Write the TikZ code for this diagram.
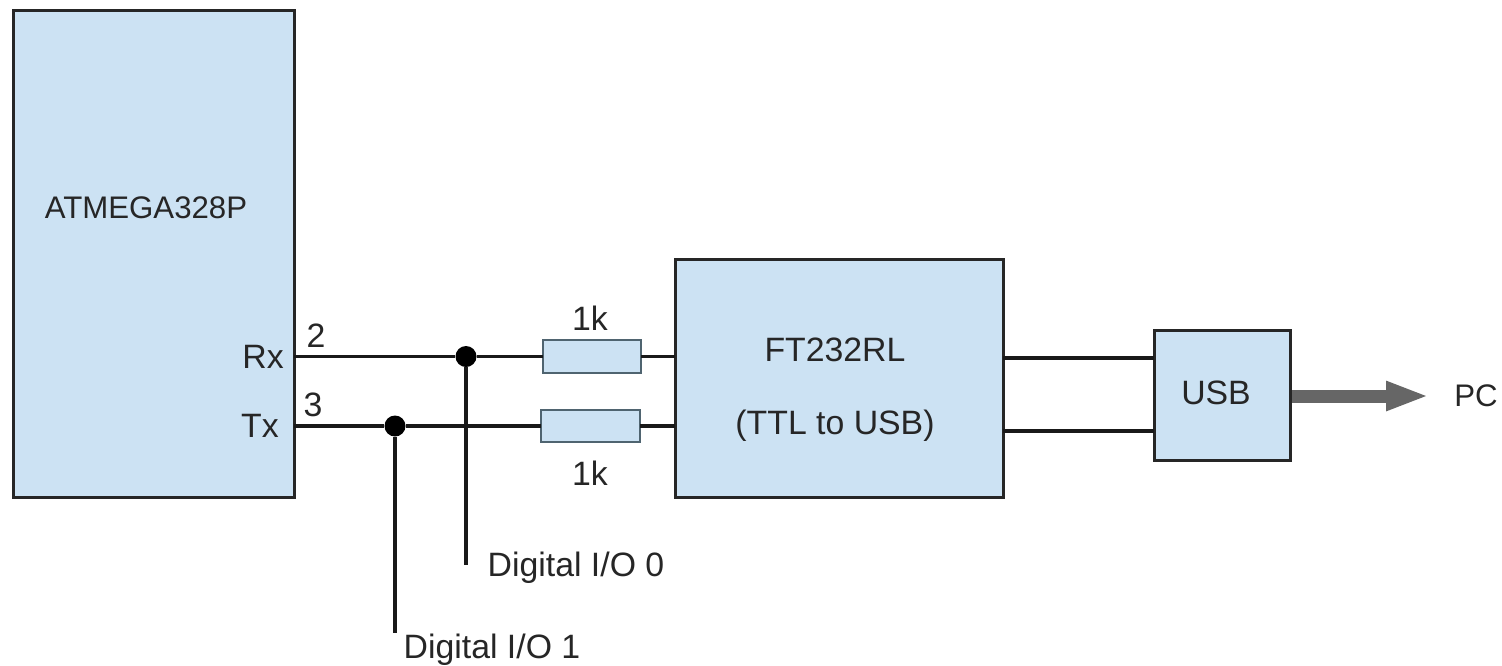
\documentclass[tikz,border=0pt]{standalone}
\usepackage{fontspec}
\setmainfont{Liberation Sans}
\usetikzlibrary{arrows.meta}
\definecolor{boxblue}{HTML}{CCE2F3}
\definecolor{resedge}{HTML}{4F6470}
\definecolor{arrowgray}{HTML}{666666}
\tikzset{
	block/.style={draw=black!85, fill=boxblue, line width=1.5pt, inner sep=0pt, outer sep=0pt},
	resistor/.style={draw=resedge, fill=boxblue, line width=0.8pt, inner sep=0pt, outer sep=0pt},
	junction/.style={circle, fill=black, inner sep=0pt, minimum size=10.5pt},
	wire/.style={draw=black!90, line width=1.6pt},
	txt/.style={font=\fontsize{16.9}{20}\selectfont, text=black!85, inner sep=0pt},
	txtsmall/.style={font=\fontsize{15.6}{18}\selectfont, text=black!85, inner sep=0pt}
}
\begin{document}
\begin{tikzpicture}[x=0.5pt,y=-0.5pt]
	\useasboundingbox (0,0) rectangle (1502,665);

	% boxes
	\node[block, minimum width=140.5pt, minimum height=243.5pt] (mcu) at (153.5,253.5) {};
	\node[block, minimum width=164pt, minimum height=119pt] (ft) at (839,378) {};
	\node[block, minimum width=68pt, minimum height=65pt] (usb) at (1222,395) {};
	\node[resistor, minimum width=49pt, minimum height=16.5pt] (rone) at (592,356.5) {};
	\node[resistor, minimum width=49.5pt, minimum height=16pt] (rtwo) at (590.5,426) {};

	% junctions and free ends
	\node[junction] (dotrx) at (466,356.5) {};
	\node[junction] (dottx) at (395,426) {};
	\coordinate (iozero) at (466,565);
	\coordinate (ioone) at (395,633);
	\coordinate (usbtop) at (1154,358);
	\coordinate (usbbot) at (1154,431);

	% wires
	\draw[wire] (dotrx -| mcu.east) -- (dotrx) -- (rone.west);
	\draw[wire] (rone.east) -- (rone.east -| ft.west);
	\draw[wire] (dottx -| mcu.east) -- (dottx) -- (rtwo.west);
	\draw[wire] (rtwo.east) -- (rtwo.east -| ft.west);
	\draw[wire] (dotrx) -- (iozero);
	\draw[wire] (dottx) -- (ioone);
	\draw[wire] (usbtop -| ft.east) -- (usbtop);
	\draw[wire] (usbbot -| ft.east) -- (usbbot);

	% labels
	\node[txtsmall] (mcutxt) at (146,208) {ATMEGA328P};
	\node[txt] (rxtxt) at (263,357) {Rx};
	\node[txt] (txtxt) at (260,426) {Tx};
	\node[txt] (pintwo) at (316,336) {2};
	\node[txt] (pinthree) at (313,405) {3};
	\node[txt] (ronetxt) at (590,318) {1k};
	\node[txt] (rtwotxt) at (590,473) {1k};
	\node[txt] (fttxt) at (835,350) {FT232RL};
	\node[txt] (ftsub) at (835,426) {(TTL to USB)};
	\node[txt] (usbtxt) at (1216,393) {USB};
	\node[txtsmall] (pctxt) at (1476,396) {PC};
	\node[txt] (iozerotxt) at (576,568) {Digital I/O 0};
	\node[txt] (ioonetxt) at (492,650) {Digital I/O 1};

	% arrow to pc
	\coordinate (pcend) at (1429,396);
	\draw[arrowgray, line width=6.5pt, -{Triangle[length=21.5pt,width=13.5pt]}] (usb.east |- pcend) ++(2,0) -- (pcend);
\end{tikzpicture}
\end{document}
